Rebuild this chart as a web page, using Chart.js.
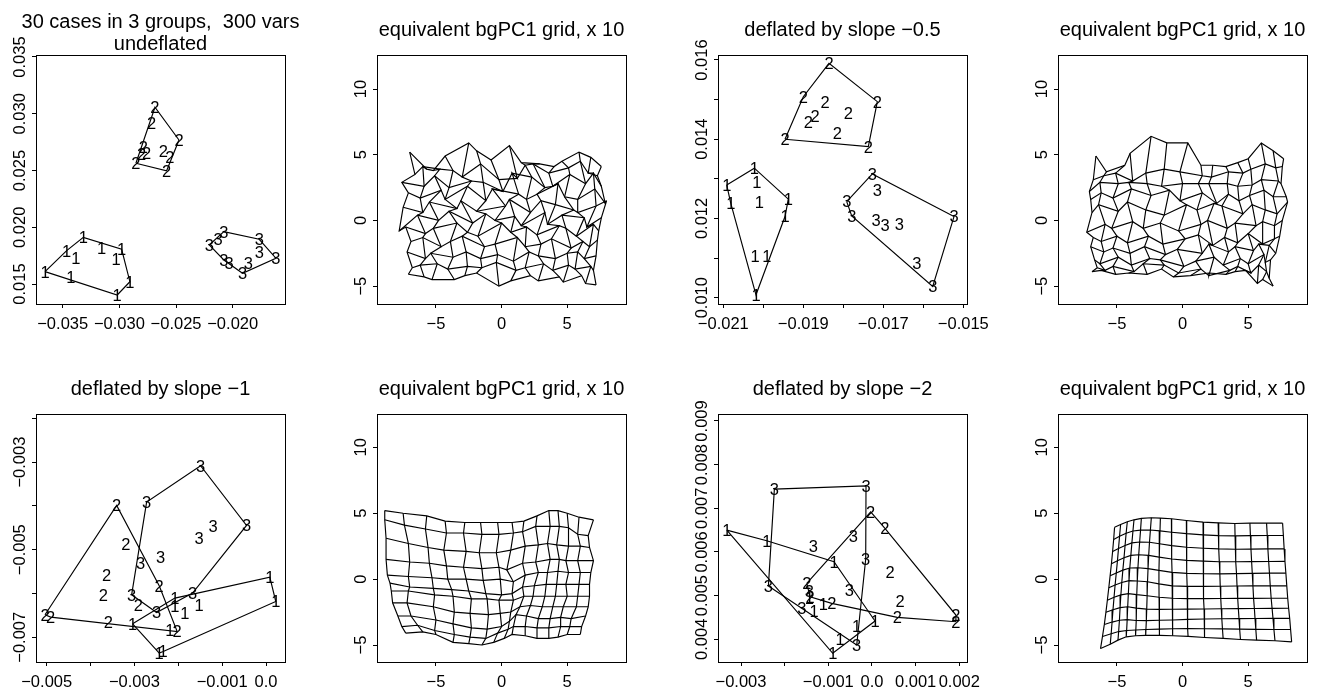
<!DOCTYPE html>
<html><head><meta charset="utf-8">
<script src="https://cdn.jsdelivr.net/npm/chart.js@4.4.1/dist/chart.umd.min.js"></script>
<style>
html,body{margin:0;padding:0;background:#fff;}
#wrap{position:relative;width:1319px;height:691px;overflow:hidden;background:#fff;}
#wrap canvas{position:absolute;left:0;top:0;}
</style></head><body><div id="wrap"></div>
<script>
// ---------------- DATA ----------------
const groupLabels = ["1", "2", "3"];

// Panel 1: undeflated
const p1G1 = [[-0.03656,0.01609],[-0.03465,0.01794],[-0.03318,0.01911],[-0.03383,0.01727],[-0.03156,0.01815],[-0.02980,0.01806],[-0.03030,0.01718],[-0.02907,0.01520],[-0.03019,0.01403],[-0.03429,0.01559]];
const p1G2 = [[-0.02686,0.03057],[-0.02715,0.02921],[-0.02474,0.02769],[-0.02789,0.02710],[-0.02759,0.02657],[-0.02803,0.02645],[-0.02613,0.02675],[-0.02554,0.02616],[-0.02854,0.02564],[-0.02583,0.02498]];
const p1G3 = [[-0.02207,0.01844],[-0.02128,0.01894],[-0.02078,0.01961],[-0.01766,0.01894],[-0.01766,0.01785],[-0.01619,0.01727],[-0.01863,0.01688],[-0.01913,0.01594],[-0.02078,0.01712],[-0.02031,0.01683]];
const p1XTicks = [-0.035,-0.030,-0.025,-0.020];
const p1XLabels = ["\u22120.035","\u22120.030","\u22120.025","\u22120.020"];
const p1YTicks = [0.015,0.020,0.025,0.030,0.035];
const p1YLabels = ["0.015","0.020","0.025","0.030","0.035"];

// Panel 3: slope -0.5
const p3G1 = [[-0.020915,0.012847],[-0.020225,0.013269],[-0.020165,0.012906],[-0.020815,0.012386],[-0.0201,0.012411],[-0.019375,0.012487],[-0.019458,0.012048],[-0.020208,0.011057],[-0.019915,0.011039],[-0.020183,0.010073]];
const p3G2 = [[-0.018358,0.015917],[-0.01715,0.014948],[-0.019,0.015074],[-0.018458,0.014948],[-0.017875,0.014671],[-0.018708,0.014588],[-0.018875,0.014444],[-0.01815,0.014151],[-0.019458,0.014],[-0.017375,0.013813]];
const p3G3 = [[-0.017275,0.013125],[-0.01715,0.012704],[-0.017915,0.012426],[-0.01779,0.012066],[-0.017183,0.011947],[-0.016958,0.011839],[-0.0166,0.011864],[-0.015233,0.012048],[-0.016165,0.010873],[-0.015765,0.010282]];
const p3XTicks = [-0.021,-0.020,-0.019,-0.018,-0.017,-0.016,-0.015];
const p3XLabVals = [-0.021,-0.019,-0.017,-0.015];
const p3XLabels = ["\u22120.021","\u22120.019","\u22120.017","\u22120.015"];
const p3YTicks = [0.010,0.011,0.012,0.013,0.014,0.015,0.016];
const p3YLabVals = [0.010,0.012,0.014,0.016];
const p3YLabels = ["0.010","0.012","0.014","0.016"];

// Panel 5: slope -1
const p5G1 = [[0.000087,-0.005626],[0.000223,-0.006183],[-0.002077,-0.006105],[-0.001524,-0.006258],[-0.00185,-0.006447],[-0.002077,-0.006297],[-0.003041,-0.006692],[-0.002191,-0.006845],[-0.002435,-0.007361],[-0.002344,-0.007324]];
const p5G2 = [[-0.003405,-0.003991],[-0.003194,-0.004865],[-0.003633,-0.005589],[-0.003711,-0.006046],[-0.002435,-0.005824],[-0.002913,-0.006274],[-0.003597,-0.006662],[-0.002025,-0.006868],[-0.005039,-0.006486],[-0.004909,-0.006539]];
const p5G3 = [[-0.001492,-0.003084],[-0.002722,-0.003913],[-0.000444,-0.004447],[-0.001205,-0.00447],[-0.001524,-0.004735],[-0.002403,-0.005169],[-0.002859,-0.005306],[-0.003064,-0.00603],[-0.001674,-0.005991],[-0.002494,-0.006434]];
const p5XTicks = [-0.005,-0.004,-0.003,-0.002,-0.001,0];
const p5XLabVals = [-0.005,-0.003,-0.001,0];
const p5XLabels = ["\u22120.005","\u22120.003","\u22120.001","0.0"];
const p5YTicks = [-0.007,-0.006,-0.005,-0.004,-0.003,-0.002];
const p5YLabVals = [-0.007,-0.005,-0.003];
const p5YLabels = ["\u22120.007","\u22120.005","\u22120.003"];

// Panel 7: slope -2
const p7G1 = [[-0.003325,0.006501],[-0.00241,0.006256],[-0.00087,0.005776],[0.000069,0.004419],[-0.00035,0.004311],[-0.000732,0.004],[-0.000899,0.00368],[-0.001327,0.004654],[-0.001114,0.004808],[-0.001435,0.004938]];
const p7G2 = [[-0.00003,0.00692],[0.000297,0.00654],[0.000412,0.005547],[0.000641,0.004883],[0.000579,0.004503],[0.001922,0.004556],[0.001922,0.004403],[-0.001494,0.005281],[-0.001419,0.004975],[-0.000922,0.004824]];
const p7G3 = [[-0.002236,0.007439],[-0.000137,0.007515],[-0.000428,0.006364],[-0.001343,0.006135],[-0.000144,0.005838],[-0.00052,0.005128],[-0.002373,0.00522],[-0.001609,0.004709],[-0.00035,0.00387],[-0.001435,0.005112]];
const p7XTicks = [-0.003,-0.002,-0.001,0,0.001,0.002];
const p7XLabVals = [-0.003,-0.001,0,0.001,0.002];
const p7XLabels = ["\u22120.003","\u22120.001","0.0","0.001","0.002"];
const p7YTicks = [0.004,0.005,0.006,0.007,0.008,0.009];
const p7YLabels = ["0.004","0.005","0.006","0.007","0.008","0.009"];

// Grid panels (common ticks)
const gXTicks = [-5,0,5];
const gXLabels = ["\u22125","0","5"];
const gYTicks = [-5,0,5,10];
const gYLabels = ["\u22125","0","5","10"];

// Grid node coordinates, rows from top to bottom, 15 columns each
const g2X = [
[-7.0,-5.7,-5.2,-4.3,-2.5,-1.9,-0.8,0.6,1.5,2.9,4.0,4.6,5.9,6.8,7.6],
[-6.6,-6.0,-4.7,-3.7,-3.0,-1.6,-0.2,1.2,1.8,2.4,3.6,5.1,6.0,6.6,7.3],
[-7.6,-5.9,-5.1,-4.0,-2.3,-1.4,0.1,0.8,2.3,3.3,3.9,5.2,6.4,7.0,7.6],
[-7.1,-6.2,-4.6,-4.3,-2.6,-1.2,-0.7,1.3,1.9,2.7,4.3,4.8,5.8,7.1,7.9],
[-7.5,-6.0,-5.5,-3.4,-3.1,-1.9,0.3,0.6,2.2,3.0,4.1,5.5,5.8,7.2,8.0],
[-7.8,-6.4,-4.8,-4.0,-2.2,-1.2,-0.5,1.0,1.5,3.3,3.5,4.6,6.3,6.5,7.6],
[-7.3,-5.8,-5.2,-3.4,-2.6,-1.8,0.0,0.7,1.9,2.7,4.4,4.9,5.7,7.0,7.4],
[-6.9,-6.0,-4.6,-3.9,-3.0,-1.3,-0.5,1.2,1.8,3.0,3.8,5.3,6.2,6.7,7.3],
[-7.2,-5.8,-5.4,-3.7,-2.7,-1.6,-0.3,0.9,2.1,2.8,4.1,5.0,5.8,6.3,7.2],
[-6.8,-6.2,-4.9,-4.1,-2.6,-1.5,-0.4,1.1,1.8,3.2,3.9,5.1,5.6,6.8,7.0],
[-7.1,-5.9,-5.3,-3.6,-2.8,-1.9,-0.2,0.7,2.2,2.8,4.4,4.7,6.1,6.4,7.2]];
const g2Y = [
[5.2,3.9,3.8,4.9,5.9,5.3,4.6,5.7,4.4,4.3,4.1,4.5,5.2,4.8,4.1],
[3.5,4.1,3.9,3.8,3.3,4.3,3.1,3.2,4.2,4.3,3.6,4.0,4.5,3.6,3.4],
[2.9,2.6,3.4,2.5,3.0,2.9,2.2,3.6,3.3,2.5,2.6,3.5,2.8,3.6,2.6],
[2.1,1.7,2.3,1.6,2.6,1.5,2.4,2.0,1.6,2.0,2.8,1.8,1.6,2.4,1.3],
[1.0,0.6,1.4,0.9,1.5,0.7,1.1,1.6,0.6,1.5,1.2,0.8,0.6,1.1,1.5],
[-0.8,0.4,0.0,0.7,-0.2,0.5,0.0,0.3,-0.4,0.6,-0.3,0.4,0.2,-0.5,0.2],
[-0.5,-1.0,-0.6,-0.2,-0.9,-1.2,-0.2,-0.9,-0.5,-1.1,-0.4,-0.6,-1.2,-0.3,-0.8],
[-1.6,-1.3,-2.0,-1.6,-1.2,-2.0,-1.8,-1.3,-2.0,-1.8,-1.4,-2.1,-1.6,-2.0,-1.5],
[-2.4,-2.9,-2.5,-2.8,-2.4,-2.9,-2.6,-3.1,-2.4,-2.7,-2.9,-2.5,-2.4,-2.9,-2.7],
[-3.6,-3.4,-3.3,-3.7,-3.5,-3.6,-3.2,-3.8,-3.6,-3.3,-3.8,-3.4,-3.7,-3.5,-3.8],
[-4.1,-4.3,-4.5,-4.5,-4.2,-4.0,-5.0,-4.6,-4.2,-4.6,-4.3,-4.7,-4.2,-4.8,-4.9]];

const g4X = [
[-6.6,-5.8,-4.4,-4.0,-2.4,-1.2,0.4,1.4,2.3,3.3,4.2,5.0,6.0,6.9,7.7],
[-6.8,-6.0,-5.1,-3.8,-2.8,-1.4,-0.2,1.5,2.2,3.5,4.6,5.2,6.3,7.1,7.6],
[-7.1,-6.3,-4.9,-4.1,-2.7,-1.6,0.0,1.2,2.0,3.4,4.2,5.3,6.0,7.3,7.5],
[-7.0,-6.2,-5.3,-3.9,-2.4,-1.0,-0.2,1.5,2.6,3.5,4.3,5.1,6.2,6.9,7.9],
[-6.9,-6.4,-4.9,-4.2,-2.8,-1.4,0.3,1.1,2.4,3.0,4.6,5.3,6.3,7.2,8.0],
[-7.3,-5.9,-5.4,-3.8,-3.0,-1.7,-0.3,1.4,1.9,3.4,4.0,5.6,6.1,7.0,7.6],
[-6.8,-6.2,-5.0,-4.2,-2.6,-1.5,0.2,1.2,2.3,3.2,4.2,5.0,6.1,7.0,7.4],
[-7.0,-6.0,-5.3,-4.0,-2.9,-1.3,-0.4,1.5,2.0,3.5,4.0,5.4,5.8,6.6,7.1],
[-6.7,-6.3,-4.9,-3.9,-2.5,-1.7,0.1,1.0,2.4,3.1,4.4,5.0,6.2,6.3,6.7],
[-6.5,-5.9,-5.3,-3.7,-3.0,-1.4,-0.3,1.4,2.0,3.6,4.2,5.2,5.8,6.4,6.6],
[-6.9,-6.2,-5.1,-4.1,-2.7,-1.6,-0.7,0.6,2.0,3.3,4.0,4.8,5.7,6.1,6.9]];
const g4Y = [
[4.9,3.7,4.2,5.1,6.4,5.9,5.9,4.2,4.2,4.1,4.4,4.7,5.9,5.3,4.7],
[3.1,3.4,3.6,3.0,3.6,3.9,3.7,3.4,3.3,3.7,3.6,3.9,4.3,4.0,4.1],
[2.2,2.9,2.8,2.9,2.8,2.6,2.8,2.8,2.8,2.8,2.6,2.7,3.1,3.0,2.8],
[1.6,2.1,1.7,2.4,1.9,2.3,1.5,2.1,1.3,2.0,1.5,1.9,2.3,1.8,1.8],
[0.6,1.2,0.7,1.4,0.8,0.4,1.2,0.8,1.3,1.1,0.5,1.2,0.8,0.5,1.4],
[-0.9,-0.3,-0.6,-0.1,-0.6,-0.2,-0.8,-0.3,0.0,-0.6,-0.2,-0.4,-0.1,-0.4,0.0],
[-1.3,-1.6,-1.2,-1.7,-1.2,-1.8,-1.4,-1.1,-1.9,-1.3,-1.7,-1.0,-1.8,-1.4,-1.2],
[-2.0,-2.4,-2.1,-2.5,-2.0,-2.6,-2.2,-2.5,-1.8,-2.4,-2.0,-2.3,-1.8,-1.9,-2.5],
[-3.0,-3.3,-2.8,-3.4,-2.9,-3.0,-3.5,-3.1,-2.8,-3.4,-2.9,-3.3,-2.6,-3.2,-3.0],
[-3.6,-3.8,-3.5,-3.9,-3.3,-3.4,-4.0,-3.7,-4.2,-3.8,-3.5,-4.0,-3.4,-3.9,-4.4],
[-3.9,-3.8,-4.1,-4.0,-4.1,-3.7,-4.3,-4.2,-4.0,-4.1,-3.9,-3.8,-4.8,-4.5,-5.0]];

const g6X = [
[-8.9,-7.5,-5.7,-4.3,-2.8,-1.6,-0.3,0.8,1.7,2.7,3.6,4.3,5.0,5.9,7.0],
[-8.9,-7.4,-5.8,-4.2,-2.9,-1.5,-0.2,0.9,1.6,2.6,3.7,4.4,5.1,5.8,6.6],
[-8.8,-7.1,-5.6,-4.4,-2.7,-1.7,-0.4,0.7,1.8,2.8,3.5,4.2,5.1,6.0,6.7],
[-8.8,-7.0,-5.5,-4.2,-2.9,-1.5,-0.2,0.4,1.6,2.6,3.7,4.4,4.9,5.8,7.0],
[-8.7,-7.1,-5.3,-4.1,-2.7,-1.4,-0.1,0.9,1.8,2.8,3.5,4.3,5.1,6.0,6.8],
[-8.5,-7.0,-5.2,-3.8,-2.5,-1.2,0.0,0.8,1.6,2.5,3.4,4.2,4.9,5.9,6.7],
[-8.4,-7.1,-5.1,-3.7,-2.3,-1.1,-0.2,0.9,1.7,2.4,3.3,4.1,5.0,5.8,6.7],
[-8.3,-7.2,-5.2,-3.6,-2.4,-1.0,-0.1,0.7,1.4,2.2,3.1,3.9,4.7,5.7,6.6],
[-7.9,-6.9,-5.0,-3.7,-2.3,-1.1,0.0,0.6,1.1,1.9,2.8,3.7,4.5,5.3,6.4],
[-7.6,-6.4,-5.1,-3.6,-2.4,-1.2,-0.3,0.5,0.9,1.8,2.7,3.6,4.5,5.2,6.1],
[-7.3,-6.0,-5.0,-3.7,-2.5,-1.5,-0.6,0.2,0.8,1.8,2.7,3.6,4.3,5.0,6.0]];
const g6Y = [
[5.2,5.0,4.8,4.4,4.3,4.3,4.3,4.3,4.4,4.8,5.2,5.2,5.0,4.7,4.5],
[4.5,4.1,3.8,3.5,3.5,3.4,3.4,3.5,3.6,4.0,4.0,4.0,3.9,3.4,3.3],
[3.1,2.7,2.4,2.2,2.1,2.0,2.0,2.2,2.5,2.6,2.7,2.6,2.5,2.5,2.4],
[1.5,1.3,1.2,1.0,0.9,0.8,0.9,0.7,1.2,1.3,1.5,1.5,1.4,1.4,1.4],
[0.3,0.2,0.1,0.0,0.0,-0.1,0.0,-0.2,0.3,0.5,0.5,0.6,0.5,0.5,0.5],
[-0.3,-0.6,-0.7,-0.8,-0.9,-1.1,-1.2,-1.1,-0.6,-0.5,-0.4,-0.4,-0.4,-0.4,-0.4],
[-0.9,-0.9,-1.2,-1.3,-1.5,-1.5,-1.6,-1.6,-1.3,-1.3,-1.3,-1.3,-1.3,-1.3,-1.3],
[-1.8,-1.8,-2.1,-2.5,-2.6,-2.7,-2.6,-2.5,-2.1,-2.0,-2.1,-2.1,-2.1,-2.1,-2.1],
[-2.8,-2.8,-3.1,-3.4,-3.7,-3.8,-3.6,-3.2,-2.7,-2.8,-3.0,-3.0,-2.9,-3.0,-2.8],
[-3.6,-3.5,-3.9,-4.2,-4.4,-4.5,-4.1,-3.8,-3.6,-3.6,-3.7,-3.7,-3.6,-3.6,-3.6],
[-4.1,-4.0,-4.2,-4.8,-4.9,-5.0,-4.8,-4.5,-4.2,-4.3,-4.5,-4.5,-4.4,-4.2,-4.2]];

const g8X = [
[-5.18,-4.72,-4.21,-3.70,-3.14,-2.38,-1.69,-0.85,0.29,1.56,2.71,3.98,5.13,6.40,7.62],
[-5.25,-4.80,-4.30,-3.78,-3.20,-2.45,-1.72,-0.84,0.30,1.57,2.74,4.00,5.17,6.45,7.68],
[-5.33,-4.88,-4.38,-3.86,-3.27,-2.52,-1.76,-0.83,0.31,1.58,2.77,4.03,5.21,6.50,7.74],
[-5.42,-4.96,-4.46,-3.94,-3.34,-2.58,-1.79,-0.82,0.32,1.59,2.80,4.07,5.26,6.56,7.80],
[-5.52,-5.05,-4.55,-4.02,-3.40,-2.63,-1.80,-0.80,0.33,1.60,2.84,4.11,5.31,6.62,7.87],
[-5.62,-5.14,-4.63,-4.08,-3.45,-2.67,-1.80,-0.79,0.35,1.61,2.87,4.15,5.36,6.68,7.94],
[-5.73,-5.22,-4.70,-4.13,-3.49,-2.70,-1.79,-0.77,0.36,1.63,2.91,4.20,5.41,6.75,8.01],
[-5.84,-5.30,-4.76,-4.18,-3.52,-2.73,-1.78,-0.76,0.38,1.64,2.95,4.25,5.47,6.82,8.08],
[-5.96,-5.37,-4.81,-4.22,-3.54,-2.76,-1.77,-0.75,0.39,1.66,2.99,4.30,5.52,6.89,8.16],
[-6.10,-5.44,-4.87,-4.26,-3.56,-2.79,-1.76,-0.74,0.41,1.67,3.04,4.35,5.58,6.96,8.23],
[-6.25,-5.51,-4.92,-4.29,-3.58,-2.81,-1.74,-0.73,0.42,1.69,3.09,4.41,5.64,7.04,8.31]];
const g8Y = [
[3.94,4.15,4.35,4.50,4.61,4.66,4.63,4.58,4.45,4.33,4.27,4.22,4.25,4.25,4.25],
[3.00,3.25,3.48,3.65,3.72,3.73,3.66,3.56,3.45,3.36,3.30,3.28,3.30,3.31,3.31],
[2.09,2.33,2.55,2.75,2.82,2.80,2.68,2.54,2.42,2.34,2.29,2.27,2.28,2.29,2.29],
[1.17,1.40,1.62,1.80,1.85,1.80,1.67,1.53,1.42,1.36,1.32,1.32,1.33,1.34,1.35],
[0.25,0.47,0.68,0.84,0.86,0.80,0.66,0.51,0.44,0.41,0.40,0.42,0.44,0.45,0.46],
[-0.66,-0.45,-0.26,-0.12,-0.14,-0.20,-0.36,-0.51,-0.55,-0.55,-0.54,-0.52,-0.51,-0.51,-0.51],
[-1.60,-1.38,-1.20,-1.10,-1.18,-1.26,-1.38,-1.45,-1.48,-1.48,-1.47,-1.46,-1.46,-1.45,-1.45],
[-2.52,-2.32,-2.16,-2.10,-2.20,-2.28,-2.30,-2.29,-2.28,-2.27,-2.25,-2.24,-2.23,-2.22,-2.21],
[-3.44,-3.26,-3.12,-3.08,-3.14,-3.15,-3.12,-3.10,-3.06,-3.03,-3.01,-3.00,-2.99,-2.98,-2.98],
[-4.35,-4.15,-3.98,-3.90,-3.86,-3.82,-3.79,-3.77,-3.76,-3.77,-3.78,-3.80,-3.81,-3.82,-3.82],
[-5.27,-4.94,-4.63,-4.38,-4.30,-4.27,-4.27,-4.30,-4.35,-4.43,-4.50,-4.58,-4.63,-4.68,-4.76]];

const titleScatter1 = ["30 cases in 3 groups,  300 vars", "undeflated"];
const titleSlope05 = "deflated by slope \u22120.5";
const titleSlope1 = "deflated by slope \u22121";
const titleSlope2 = "deflated by slope \u22122";
const titleGrid = "equivalent bgPC1 grid, x 10";

// ---------------- RENDERING ----------------
const FONT = '"Liberation Sans", Arial, Helvetica, sans-serif';
const W = 1319, H = 691;
const wrap = document.getElementById('wrap');

function hull(pts) {
  const p = pts.map(a => ({x: a[0], y: a[1]})).sort((a, b) => a.x - b.x || a.y - b.y);
  const cross = (o, a, b) => (a.x - o.x) * (b.y - o.y) - (a.y - o.y) * (b.x - o.x);
  const lower = [];
  for (const q of p) { while (lower.length >= 2 && cross(lower[lower.length-2], lower[lower.length-1], q) <= 0) lower.pop(); lower.push(q); }
  const upper = [];
  for (let i = p.length - 1; i >= 0; i--) { const q = p[i]; while (upper.length >= 2 && cross(upper[upper.length-2], upper[upper.length-1], q) <= 0) upper.pop(); upper.push(q); }
  upper.pop(); lower.pop();
  const h = lower.concat(upper); h.push(h[0]);
  return h;
}
function lineSet(data) {
  return {data, showLine: true, pointRadius: 0, borderColor: '#000', borderWidth: 1.15, tension: 0, fill: false};
}
function scatterSets(groups) {
  const sets = [];
  groups.forEach((g, i) => {
    sets.push({data: g.map(a => ({x: a[0], y: a[1]})), showLine: false, pointRadius: 0, digit: groupLabels[i]});
    sets.push(lineSet(hull(g)));
  });
  return sets;
}
function gridSets(GX, GY) {
  const sets = [];
  for (let r = 0; r < GX.length; r++) sets.push(lineSet(GX[r].map((x, c) => ({x, y: GY[r][c]}))));
  for (let c = 0; c < GX[0].length; c++) sets.push(lineSet(GX.map((row, r) => ({x: row[c], y: GY[r][c]}))));
  return sets;
}

function makePanel(cfg) {
  const canvas = document.createElement('canvas');
  canvas.width = W; canvas.height = H;
  canvas.style.width = W + 'px'; canvas.style.height = H + 'px';
  wrap.appendChild(canvas);
  const {L, T, R, B} = cfg.box;
  const tickGrid = {display: true, drawOnChartArea: false, drawTicks: true, tickLength: 4, color: '#000', lineWidth: 1};
  new Chart(canvas, {
    type: 'scatter',
    data: {datasets: cfg.datasets},
    options: {
      responsive: false, animation: false, devicePixelRatio: 1, events: [],
      layout: {padding: {left: L - 4, top: T, right: W - R, bottom: H - B - 4}},
      plugins: {legend: {display: false}, tooltip: {enabled: false}, title: {display: false}},
      scales: {
        x: {type: 'linear', position: 'bottom', min: cfg.xr[0], max: cfg.xr[1],
            afterBuildTicks: s => { s.ticks = cfg.xt.map(v => ({value: v})); },
            afterFit: s => { s.height = 4; },
            grid: tickGrid, border: {display: false}, ticks: {display: false}},
        y: {type: 'linear', position: 'left', min: cfg.yr[0], max: cfg.yr[1],
            afterBuildTicks: s => { s.ticks = cfg.yt.map(v => ({value: v})); },
            afterFit: s => { s.width = 4; },
            grid: tickGrid, border: {display: false}, ticks: {display: false}}
      }
    },
    plugins: [{
      id: 'rframe',
      afterDatasetsDraw(chart) {
        const ctx = chart.ctx;
        ctx.save();
        ctx.fillStyle = '#000';
        ctx.font = '16.5px ' + FONT;
        ctx.textAlign = 'center'; ctx.textBaseline = 'alphabetic';
        chart.data.datasets.forEach((ds, i) => {
          if (!ds.digit) return;
          chart.getDatasetMeta(i).data.forEach(el => ctx.fillText(ds.digit, el.x, el.y + 5.9));
        });
        ctx.restore();
      },
      afterDraw(chart) {
        const ctx = chart.ctx, a = chart.chartArea;
        ctx.save();
        ctx.strokeStyle = '#000'; ctx.lineWidth = 1;
        ctx.strokeRect(Math.round(a.left) + 0.5, Math.round(a.top) + 0.5, Math.round(a.right - a.left), Math.round(a.bottom - a.top));
        ctx.fillStyle = '#000';
        ctx.font = '20px ' + FONT;
        ctx.textAlign = 'center'; ctx.textBaseline = 'alphabetic';
        const cx = (a.left + a.right) / 2;
        cfg.titles.forEach(t => ctx.fillText(t.text, cx, t.y));
        ctx.font = '16.5px ' + FONT;
        const xs = chart.scales.x, ys = chart.scales.y;
        cfg.xl.forEach((v, i) => ctx.fillText(cfg.xlt[i], xs.getPixelForValue(v), a.bottom + 25));
        cfg.yl.forEach((v, i) => {
          ctx.save();
          ctx.translate(a.left - 11.5, ys.getPixelForValue(v));
          ctx.rotate(-Math.PI / 2);
          ctx.fillText(cfg.ylt[i], 0, 0);
          ctx.restore();
        });
        ctx.restore();
      }
    }]
  });
}

const gridXR = [-9.49, 9.48];
const topGridYR = [-6.36, 12.59];
const botGridYR = [-6.29, 12.53];

makePanel({box: {L: 36, T: 55, R: 285, B: 304}, xr: [-0.037356, -0.015385], yr: [0.013238, 0.035176],
  xt: p1XTicks, xl: p1XTicks, xlt: p1XLabels, yt: p1YTicks, yl: p1YTicks, ylt: p1YLabels,
  titles: [{text: titleScatter1[0], y: 28}, {text: titleScatter1[1], y: 49.5}],
  datasets: scatterSets([p1G1, p1G2, p1G3])});
makePanel({box: {L: 377, T: 55, R: 626, B: 304}, xr: gridXR, yr: topGridYR,
  xt: gXTicks, xl: gXTicks, xlt: gXLabels, yt: gYTicks, yl: gYTicks, ylt: gYLabels,
  titles: [{text: titleGrid, y: 36}], datasets: gridSets(g2X, g2Y)});
makePanel({box: {L: 718, T: 55, R: 967, B: 304}, xr: [-0.021133, -0.014908], yr: [0.009841, 0.016126],
  xt: p3XTicks, xl: p3XLabVals, xlt: p3XLabels, yt: p3YTicks, yl: p3YLabVals, ylt: p3YLabels,
  titles: [{text: titleSlope05, y: 36}], datasets: scatterSets([p3G1, p3G2, p3G3])});
makePanel({box: {L: 1058, T: 55, R: 1307, B: 304}, xr: gridXR, yr: topGridYR,
  xt: gXTicks, xl: gXTicks, xlt: gXLabels, yt: gYTicks, yl: gYTicks, ylt: gYLabels,
  titles: [{text: titleGrid, y: 36}], datasets: gridSets(g4X, g4Y)});
makePanel({box: {L: 36, T: 414, R: 285, B: 662}, xr: [-0.005244, 0.000433], yr: [-0.007564, -0.001902],
  xt: p5XTicks, xl: p5XLabVals, xlt: p5XLabels, yt: p5YTicks, yl: p5YLabVals, ylt: p5YLabels,
  titles: [{text: titleSlope1, y: 395}], datasets: scatterSets([p5G1, p5G2, p5G3])});
makePanel({box: {L: 377, T: 414, R: 626, B: 662}, xr: gridXR, yr: botGridYR,
  xt: gXTicks, xl: gXTicks, xlt: gXLabels, yt: gYTicks, yl: gYTicks, ylt: gYLabels,
  titles: [{text: titleGrid, y: 395}], datasets: gridSets(g6X, g6Y)});
makePanel({box: {L: 718, T: 414, R: 967, B: 662}, xr: [-0.003527, 0.002176], yr: [0.00348, 0.00916],
  xt: p7XTicks, xl: p7XLabVals, xlt: p7XLabels, yt: p7YTicks, yl: p7YTicks, ylt: p7YLabels,
  titles: [{text: titleSlope2, y: 395}], datasets: scatterSets([p7G1, p7G2, p7G3])});
makePanel({box: {L: 1058, T: 414, R: 1307, B: 662}, xr: gridXR, yr: botGridYR,
  xt: gXTicks, xl: gXTicks, xlt: gXLabels, yt: gYTicks, yl: gYTicks, ylt: gYLabels,
  titles: [{text: titleGrid, y: 395}], datasets: gridSets(g8X, g8Y)});
</script></body></html>
